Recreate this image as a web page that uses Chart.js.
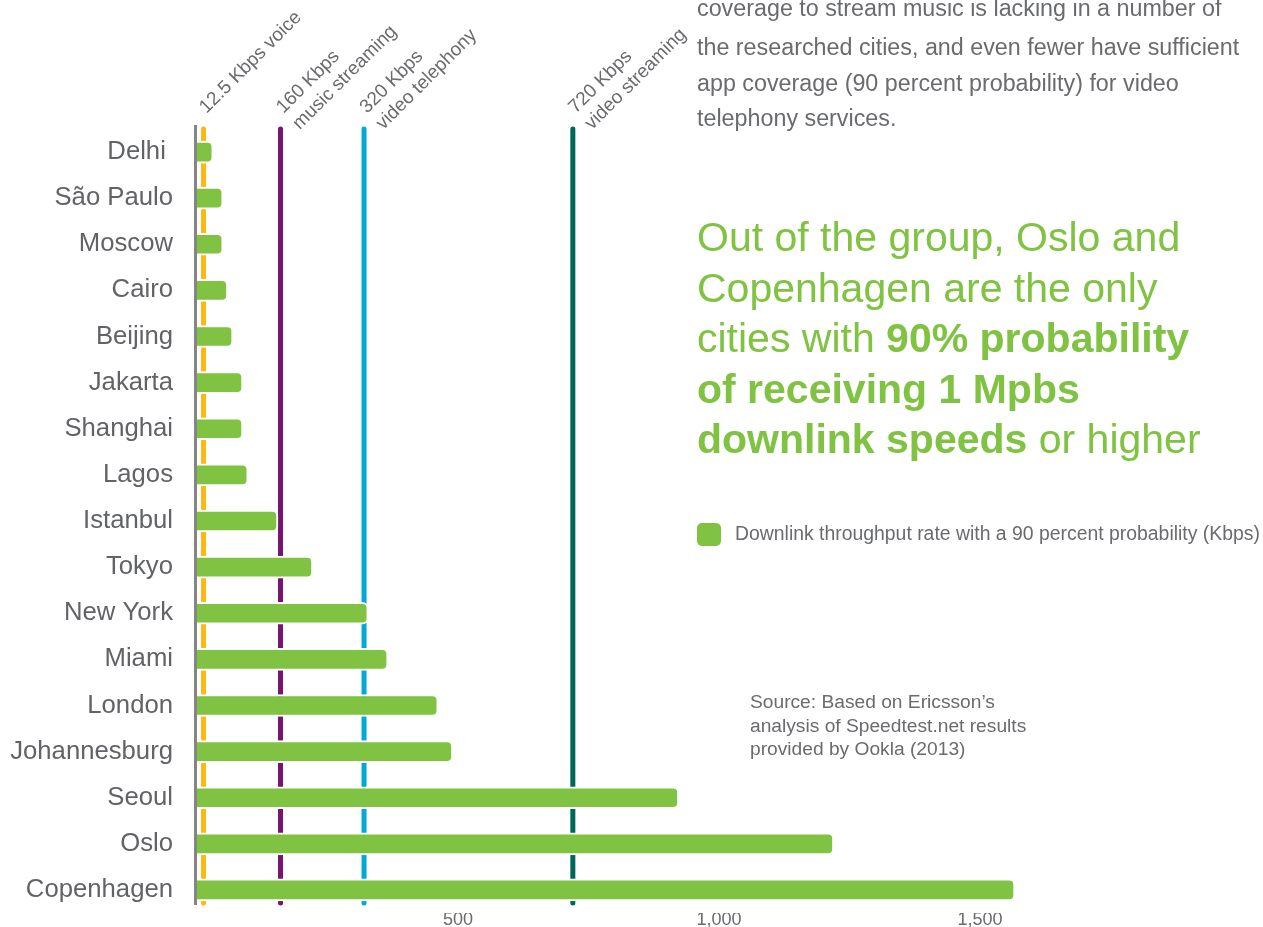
<!DOCTYPE html>
<html>
<head>
<meta charset="utf-8">
<script src="https://cdn.jsdelivr.net/npm/chart.js@4.4.1/dist/chart.umd.min.js"></script>
<style>
  body { margin: 0; background: #fff; }
  #wrap { width: 1263px; height: 927px; position: relative; }
</style>
</head>
<body>
<div id="wrap"><canvas id="speedChart"></canvas></div>
<script>
const cities = ["Delhi ", "São Paulo", "Moscow", "Cairo", "Beijing", "Jakarta", "Shanghai", "Lagos",
  "Istanbul", "Tokyo", "New York", "Miami", "London", "Johannesburg", "Seoul", "Oslo", "Copenhagen"];

// downlink throughput, 90 percent probability (Kbps)
const throughput = [31, 50, 50, 59, 69, 88, 88, 98, 155, 222, 328, 366, 462, 490, 923, 1220, 1567];

// service thresholds (Kbps)
const thresholdValues = [12.5, 160, 320, 720];
const thresholdLabels = [
  ["12.5 Kbps voice"],
  ["160 Kbps", "music streaming"],
  ["320 Kbps", "video telephony"],
  ["720 Kbps", "video streaming"]
];
const thresholdColors = ["#fdb913", "#78146e", "#00aad4", "#00665c"];

const xTicks = [500, 1000, 1500];

const fontFamily = "'Liberation Sans', Arial, Helvetica, sans-serif";
const grayText = "#6a6b6e";
const green = "#80c242";

// axis line, vertical threshold lines + their rotated labels (drawn under the bars)
const thresholdPlugin = {
  id: "thresholds",
  beforeDatasetsDraw(chart) {
    const ctx = chart.ctx;
    const area = chart.chartArea;
    const xScale = chart.scales.x;
    ctx.save();

    // left axis line, a bit shorter than the chart area like the original
    const x0 = xScale.getPixelForValue(0) - 1.5;
    ctx.strokeStyle = "#858585";
    ctx.lineWidth = 3;
    ctx.beginPath();
    ctx.moveTo(x0, area.top - 4);
    ctx.lineTo(x0, area.bottom - 8);
    ctx.stroke();

    thresholdValues.forEach((v, i) => {
      const x = xScale.getPixelForValue(v);
      ctx.strokeStyle = thresholdColors[i];
      ctx.lineWidth = 5;
      ctx.lineCap = "round";
      ctx.beginPath();
      ctx.moveTo(x, 129);
      ctx.lineTo(x, area.bottom - 10);
      ctx.stroke();

      ctx.save();
      ctx.translate(x + 3, 114);
      ctx.rotate(-Math.PI / 4);
      ctx.fillStyle = grayText;
      ctx.font = "19px " + fontFamily;
      ctx.textAlign = "left";
      ctx.textBaseline = "alphabetic";
      thresholdLabels[i].forEach((line, j) => {
        ctx.fillText(line, 0, j * 23);
      });
      ctx.restore();
    });
    ctx.restore();
  }
};

// side texts: intro paragraph, headline, legend, source
const textPlugin = {
  id: "sideText",
  afterDraw(chart) {
    const ctx = chart.ctx;
    ctx.save();
    ctx.textAlign = "left";
    ctx.textBaseline = "middle";

    const para = [
      "coverage to stream music is lacking in a number of",
      "the researched cities, and even fewer have sufficient",
      "app coverage (90 percent probability) for video",
      "telephony services."
    ];
    const paraY = [10, 49, 85, 120];
    ctx.fillStyle = grayText;
    ctx.font = "23.3px " + fontFamily;
    para.forEach((t, i) => ctx.fillText(t, 697, paraY[i]));

    const headline = [
      [["Out of the group, Oslo and", false]],
      [["Copenhagen are the only", false]],
      [["cities with ", false], ["90% probability", true]],
      [["of receiving 1 Mpbs", true]],
      [["downlink speeds", true], [" or higher", false]]
    ];
    ctx.fillStyle = green;
    headline.forEach((parts, i) => {
      let x = 697;
      const y = 240 + i * 50.4;
      parts.forEach(([t, bold]) => {
        ctx.font = (bold ? "bold " : "") + "41px " + fontFamily;
        ctx.fillText(t, x, y);
        x += ctx.measureText(t).width;
      });
    });

    // legend
    ctx.fillStyle = green;
    ctx.beginPath();
    ctx.roundRect(697, 523, 24, 23, 5);
    ctx.fill();
    ctx.fillStyle = grayText;
    ctx.font = "19.4px " + fontFamily;
    ctx.fillText("Downlink throughput rate with a 90 percent probability (Kbps)", 735, 535);

    // source
    const src = [
      "Source: Based on Ericsson\u2019s",
      "analysis of Speedtest.net results",
      "provided by Ookla (2013)"
    ];
    ctx.font = "19.2px " + fontFamily;
    src.forEach((t, i) => ctx.fillText(t, 750, 703 + i * 23.5));
    ctx.restore();
  }
};

new Chart(document.getElementById("speedChart"), {
  type: "bar",
  data: {
    labels: cities,
    datasets: [{
      label: "Downlink throughput rate with a 90 percent probability (Kbps)",
      data: throughput,
      backgroundColor: green,
      borderColor: "#ffffff",
      borderWidth: 2,
      borderRadius: 6,
      borderSkipped: "start",
      barThickness: 22
    }]
  },
  options: {
    indexAxis: "y",
    responsive: true,
    maintainAspectRatio: false,
    animation: false,
    layout: { padding: { top: 129, right: 22, bottom: 0, left: 0 } },
    plugins: {
      legend: { display: false },
      tooltip: { enabled: false }
    },
    scales: {
      x: {
        min: 0,
        max: 2000,
        grid: { display: false, drawTicks: false },
        border: { display: false },
        afterBuildTicks: (scale) => { scale.ticks = xTicks.map(v => ({ value: v })); },
        afterFit: (scale) => { scale.height = 14; },
        ticks: {
          padding: -4,
          color: grayText,
          font: { family: fontFamily, size: 18 },
          maxRotation: 0,
          callback: (v) => Number(v).toLocaleString("en-US")
        }
      },
      y: {
        grid: { display: false, drawTicks: false },
        border: { display: false },
        afterFit: (scale) => {
          scale.width = 197;
          scale.paddingTop = 0;
          scale.paddingBottom = 0;
        },
        ticks: {
          padding: 24,
          color: "#626366",
          font: { family: fontFamily, size: 25.7 }
        }
      }
    }
  },
  plugins: [thresholdPlugin, textPlugin]
});
</script>
</body>
</html>
